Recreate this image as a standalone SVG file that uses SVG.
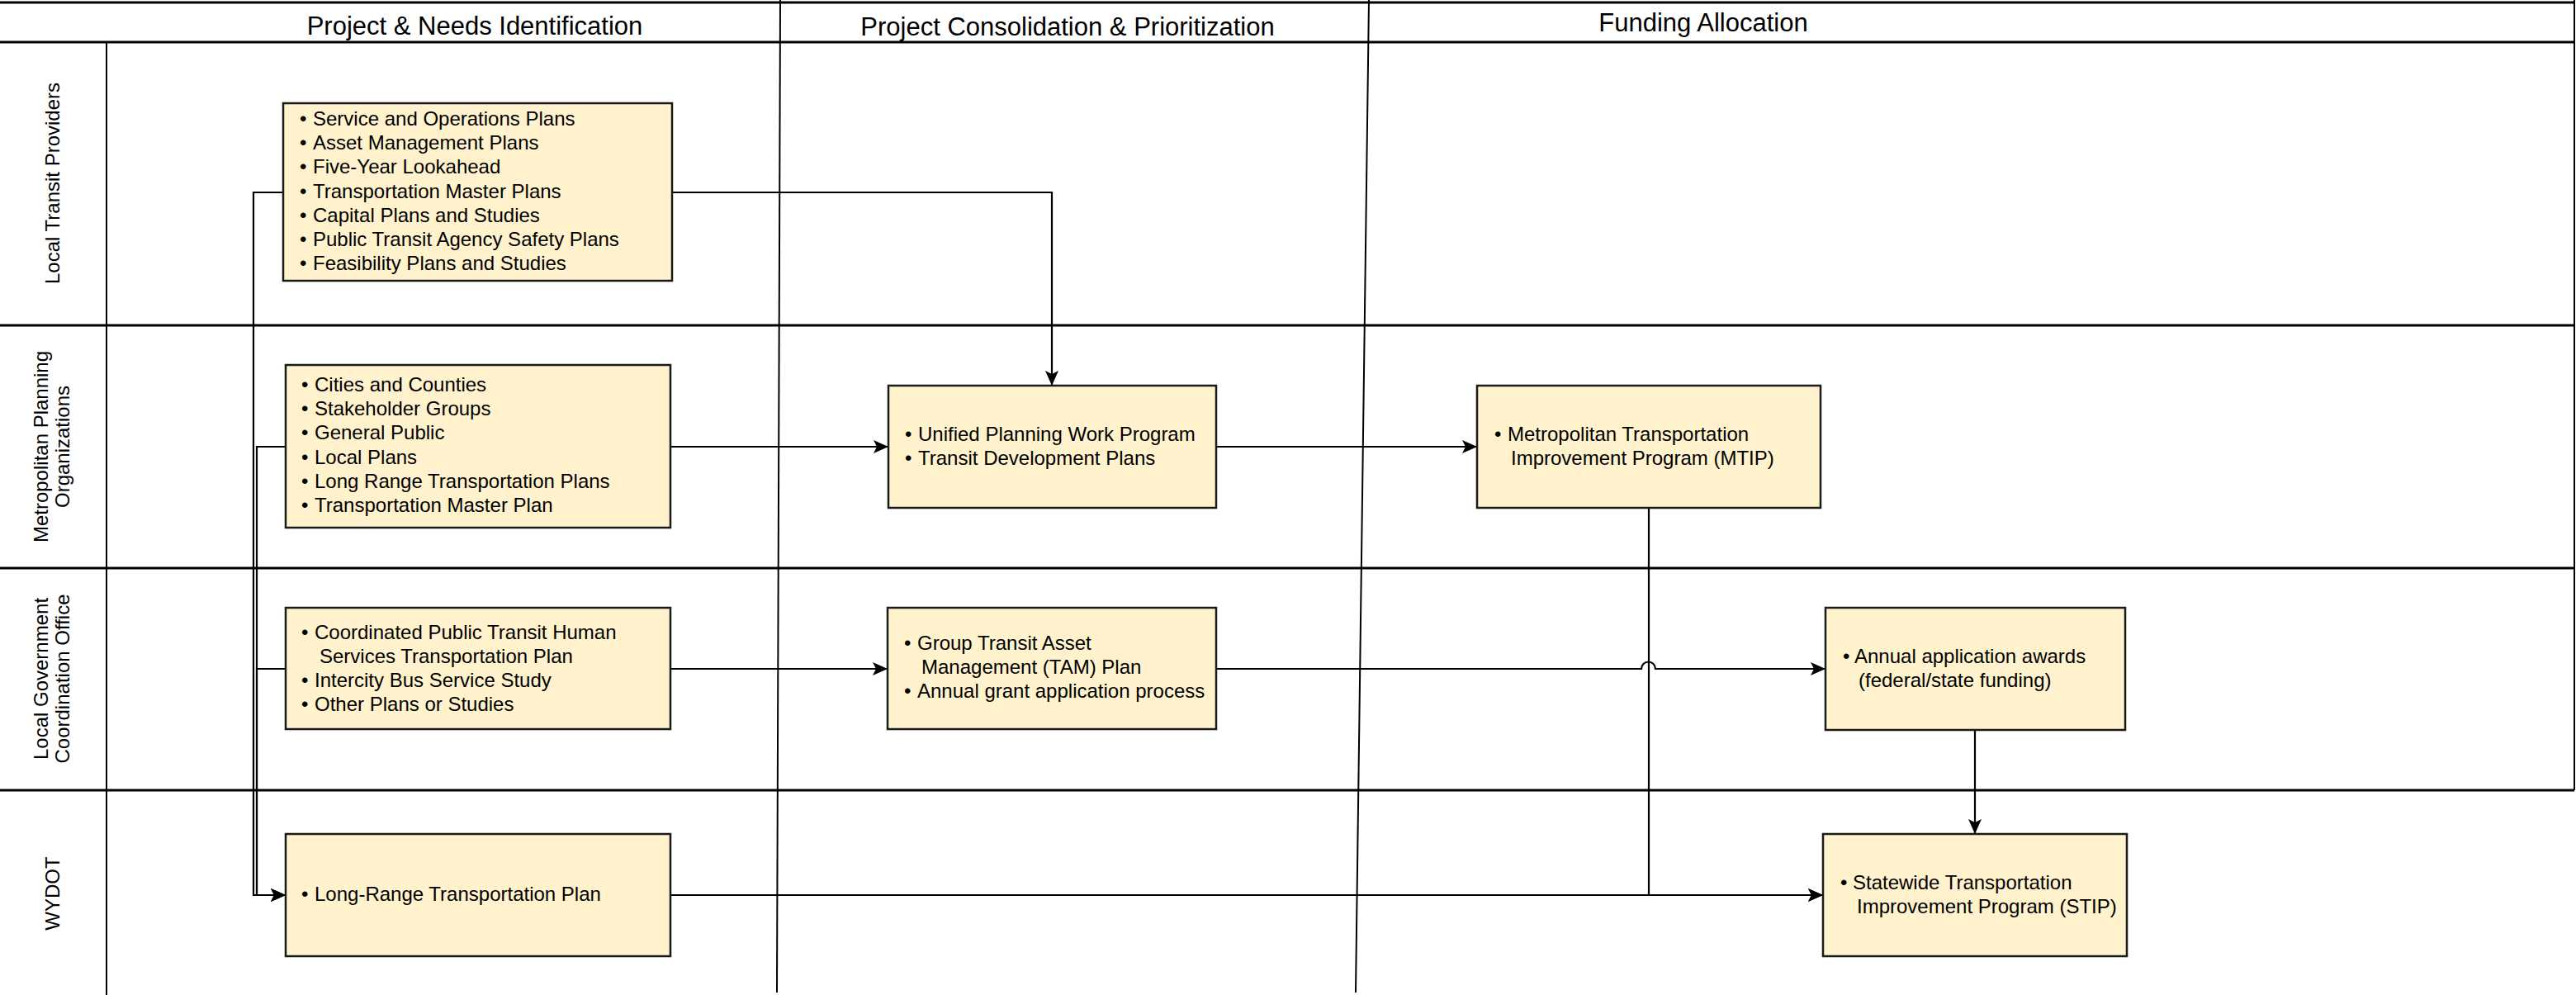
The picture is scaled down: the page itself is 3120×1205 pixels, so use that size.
<svg xmlns="http://www.w3.org/2000/svg" width="3120" height="1205" viewBox="0 0 3120 1205">
<style>
text{font-family:"Liberation Sans",Arial,sans-serif;fill:#000}
.hdr{font-size:31px;text-anchor:middle}
.lane{font-size:24px;text-anchor:middle}
.nt{font-size:24px}
.box{fill:#FFF2CC;stroke:#1a1a1a;stroke-width:2.5}
.lk{fill:none;stroke:#000;stroke-width:2.2}
.sl{stroke:#000;stroke-width:3;fill:none}
.dv{stroke:#000;stroke-width:2;fill:none}
</style>
<defs>
<marker id="arr" markerUnits="userSpaceOnUse" markerWidth="18" markerHeight="16" refX="18" refY="8" orient="auto">
<path d="M0,0 L18,8 L0,16 L4,8 Z" fill="#000"/>
</marker>
</defs>
<rect x="0" y="0" width="3120" height="1205" fill="#fff"/>
<g id="swimlanes">
<line class="sl" x1="0" y1="3" x2="3118" y2="3"/>
<line class="sl" x1="0" y1="51" x2="3118" y2="51"/>
<line class="sl" x1="0" y1="394" x2="3118" y2="394"/>
<line class="sl" x1="0" y1="688" x2="3118" y2="688"/>
<line class="sl" x1="0" y1="957" x2="3118" y2="957"/>
<line class="dv" x1="3118" y1="0" x2="3118" y2="957"/>
<line class="dv" x1="129" y1="51" x2="129" y2="1205"/>
<line class="dv" x1="945" y1="0" x2="941" y2="1202"/>
<line class="dv" x1="1658" y1="0" x2="1642" y2="1202"/>
<text class="hdr" x="575" y="42">Project &amp; Needs Identification</text>
<text class="hdr" x="1293" y="43">Project Consolidation &amp; Prioritization</text>
<text class="hdr" x="2063" y="38">Funding Allocation</text>
<text class="lane" transform="translate(72,222) rotate(-90)">Local Transit Providers</text>
<text class="lane" transform="translate(58,541) rotate(-90)">Metropolitan Planning</text>
<text class="lane" transform="translate(84,541) rotate(-90)">Organizations</text>
<text class="lane" transform="translate(58,822) rotate(-90)">Local Government</text>
<text class="lane" transform="translate(84,822) rotate(-90)">Coordination Office</text>
<text class="lane" transform="translate(72,1082) rotate(-90)">WYDOT</text>
</g>
<g id="connectors">
<path class="lk" d="M814,233 H1274 V467" marker-end="url(#arr)"/>
<path class="lk" d="M343,233 H307 V1084 H346" marker-end="url(#arr)"/>
<path class="lk" d="M346,541 H311 V1084 H346" marker-end="url(#arr)"/>
<path class="lk" d="M346,810 H311 V1084 H346" marker-end="url(#arr)"/>
<path class="lk" d="M812,541 H1076" marker-end="url(#arr)"/>
<path class="lk" d="M1473,541 H1789" marker-end="url(#arr)"/>
<path class="lk" d="M812,810 H1075" marker-end="url(#arr)"/>
<path class="lk" d="M1473,810 H1988 A8.5,8.5 0 0 1 2005,810 H2211" marker-end="url(#arr)"/>
<path class="lk" d="M1997,615 V1084 H2208" marker-end="url(#arr)"/>
<path class="lk" d="M812,1084 H2208" marker-end="url(#arr)"/>
<path class="lk" d="M2392,884 V1010" marker-end="url(#arr)"/>
</g>
<g id="node-ltp">
<rect class="box" x="343" y="125" width="471" height="215"/>
<text class="nt"><tspan x="363" y="152">•</tspan><tspan x="379" y="152">Service and Operations Plans</tspan><tspan x="363" y="181">•</tspan><tspan x="379" y="181">Asset Management Plans</tspan><tspan x="363" y="210">•</tspan><tspan x="379" y="210">Five-Year Lookahead</tspan><tspan x="363" y="240">•</tspan><tspan x="379" y="240">Transportation Master Plans</tspan><tspan x="363" y="269">•</tspan><tspan x="379" y="269">Capital Plans and Studies</tspan><tspan x="363" y="298">•</tspan><tspan x="379" y="298">Public Transit Agency Safety Plans</tspan><tspan x="363" y="327">•</tspan><tspan x="379" y="327">Feasibility Plans and Studies</tspan></text>
</g>
<g id="node-mpo">
<rect class="box" x="346" y="442" width="466" height="197"/>
<text class="nt"><tspan x="365" y="474">•</tspan><tspan x="381" y="474">Cities and Counties</tspan><tspan x="365" y="503">•</tspan><tspan x="381" y="503">Stakeholder Groups</tspan><tspan x="365" y="532">•</tspan><tspan x="381" y="532">General Public</tspan><tspan x="365" y="562">•</tspan><tspan x="381" y="562">Local Plans</tspan><tspan x="365" y="591">•</tspan><tspan x="381" y="591">Long Range Transportation Plans</tspan><tspan x="365" y="620">•</tspan><tspan x="381" y="620">Transportation Master Plan</tspan></text>
</g>
<g id="node-lgco">
<rect class="box" x="346" y="736" width="466" height="147"/>
<text class="nt"><tspan x="365" y="774">•</tspan><tspan x="381" y="774">Coordinated Public Transit Human</tspan><tspan x="387" y="803">Services Transportation Plan</tspan><tspan x="365" y="832">•</tspan><tspan x="381" y="832">Intercity Bus Service Study</tspan><tspan x="365" y="861">•</tspan><tspan x="381" y="861">Other Plans or Studies</tspan></text>
</g>
<g id="node-lrtp">
<rect class="box" x="346" y="1010" width="466" height="148"/>
<text class="nt"><tspan x="365" y="1091">•</tspan><tspan x="381" y="1091">Long-Range Transportation Plan</tspan></text>
</g>
<g id="node-upwp">
<rect class="box" x="1076" y="467" width="397" height="148"/>
<text class="nt"><tspan x="1096" y="534">•</tspan><tspan x="1112" y="534">Unified Planning Work Program</tspan><tspan x="1096" y="563">•</tspan><tspan x="1112" y="563">Transit Development Plans</tspan></text>
</g>
<g id="node-mtip">
<rect class="box" x="1789" y="467" width="416" height="148"/>
<text class="nt"><tspan x="1810" y="534">•</tspan><tspan x="1826" y="534">Metropolitan Transportation</tspan><tspan x="1830" y="563">Improvement Program (MTIP)</tspan></text>
</g>
<g id="node-tam">
<rect class="box" x="1075" y="736" width="398" height="147"/>
<text class="nt"><tspan x="1095" y="787">•</tspan><tspan x="1111" y="787">Group Transit Asset</tspan><tspan x="1116" y="816">Management (TAM) Plan</tspan><tspan x="1095" y="845">•</tspan><tspan x="1111" y="845">Annual grant application process</tspan></text>
</g>
<g id="node-awards">
<rect class="box" x="2211" y="736" width="363" height="148"/>
<text class="nt"><tspan x="2232" y="803">•</tspan><tspan x="2246" y="803">Annual application awards</tspan><tspan x="2251" y="832">(federal/state funding)</tspan></text>
</g>
<g id="node-stip">
<rect class="box" x="2208" y="1010" width="368" height="148"/>
<text class="nt"><tspan x="2229" y="1077">•</tspan><tspan x="2244" y="1077">Statewide Transportation</tspan><tspan x="2249" y="1106">Improvement Program (STIP)</tspan></text>
</g>
</svg>
